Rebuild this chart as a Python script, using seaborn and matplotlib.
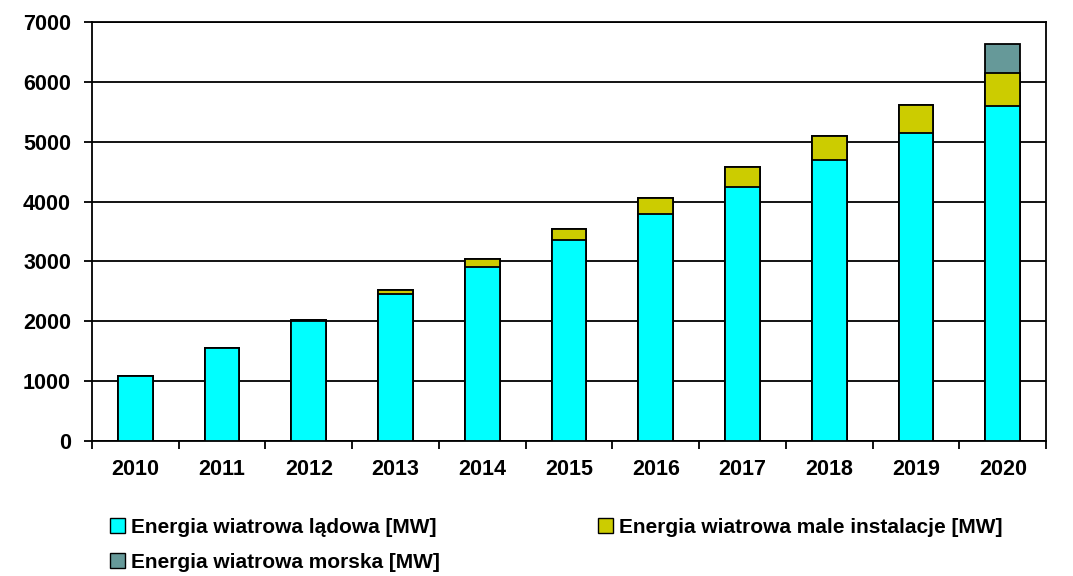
import numpy as np
import pandas as pd
import matplotlib
matplotlib.use("Agg")
import matplotlib.pyplot as plt
import seaborn as sns
from matplotlib.patches import Patch
from matplotlib.ticker import FixedLocator

years = ["2010", "2011", "2012", "2013", "2014", "2015", "2016", "2017", "2018", "2019", "2020"]
land = [1085, 1550, 2000, 2450, 2900, 3355, 3790, 4240, 4690, 5140, 5590]
small = [0, 0, 15, 70, 135, 185, 265, 335, 400, 470, 550]
offshore = [0, 0, 0, 0, 0, 0, 0, 0, 0, 0, 485]

labels = ["Energia wiatrowa lądowa [MW]",
          "Energia wiatrowa male instalacje [MW]",
          "Energia wiatrowa morska [MW]"]
colors = ["#00FFFF", "#CCCC00", "#669999"]

sns.set_style("white")
plt.rcParams["font.family"] = ["Liberation Sans", "DejaVu Sans"]
plt.rcParams["font.weight"] = "bold"
plt.rcParams["text.color"] = "black"
plt.rcParams["xtick.color"] = "black"
plt.rcParams["ytick.color"] = "black"

df = pd.DataFrame({"year": years, "land": land, "small": small, "off": offshore})
df["t2"] = df["land"] + df["small"]
df["t3"] = df["t2"] + df["off"]

fig = plt.figure(figsize=(10.73, 5.76), dpi=100)
ax = fig.add_axes([0.0857, 0.2344, 0.8893, 0.7274])

kw = dict(width=0.4, edgecolor="black", linewidth=1.3, zorder=3, ax=ax)
sns.barplot(data=df, x="year", y="t3", color=colors[2], saturation=1, **kw)
sns.barplot(data=df, x="year", y="t2", color=colors[1], saturation=1, **kw)
sns.barplot(data=df, x="year", y="land", color=colors[0], saturation=1, **kw)

ax.set_xlim(-0.5, 10.5)
ax.set_ylim(0, 7000)
ax.set_yticks(range(0, 7001, 1000))
ax.set_xlabel("")
ax.set_ylabel("")
ax.yaxis.grid(True, color="black", linewidth=1.3, zorder=0)
ax.set_axisbelow(True)
for s in ax.spines.values():
    s.set_color("black")
    s.set_linewidth(1.3)

ax.tick_params(axis="y", length=6, width=1.3, color="black", pad=9, labelsize=15.5,
               labelcolor="black", left=True)
ax.tick_params(axis="x", which="major", length=0, pad=13, labelsize=15.5, labelcolor="black")
ax.xaxis.set_minor_locator(FixedLocator(np.arange(-0.5, 11, 1.0)))
ax.tick_params(axis="x", which="minor", length=6, width=1.3, color="black", bottom=True)
for t in ax.get_xticklabels() + ax.get_yticklabels():
    t.set_fontweight("bold")

handles = [Patch(facecolor=colors[0], edgecolor="black", linewidth=1.0),
           Patch(facecolor=colors[2], edgecolor="black", linewidth=1.0),
           Patch(facecolor=colors[1], edgecolor="black", linewidth=1.0)]
leg_labels = [labels[0], labels[2], labels[1]]
leg = fig.legend(handles, leg_labels, loc="upper left", bbox_to_anchor=(0.093, 0.1195),
                 ncol=2, frameon=False, handlelength=0.7, handleheight=0.7, handletextpad=0.3,
                 columnspacing=7.6, labelspacing=0.78, borderpad=0,
                 prop={"family": "Liberation Sans", "weight": "bold", "size": 15})
for t in leg.get_texts():
    t.set_color("black")

fig.savefig("out.png", dpi=100)
